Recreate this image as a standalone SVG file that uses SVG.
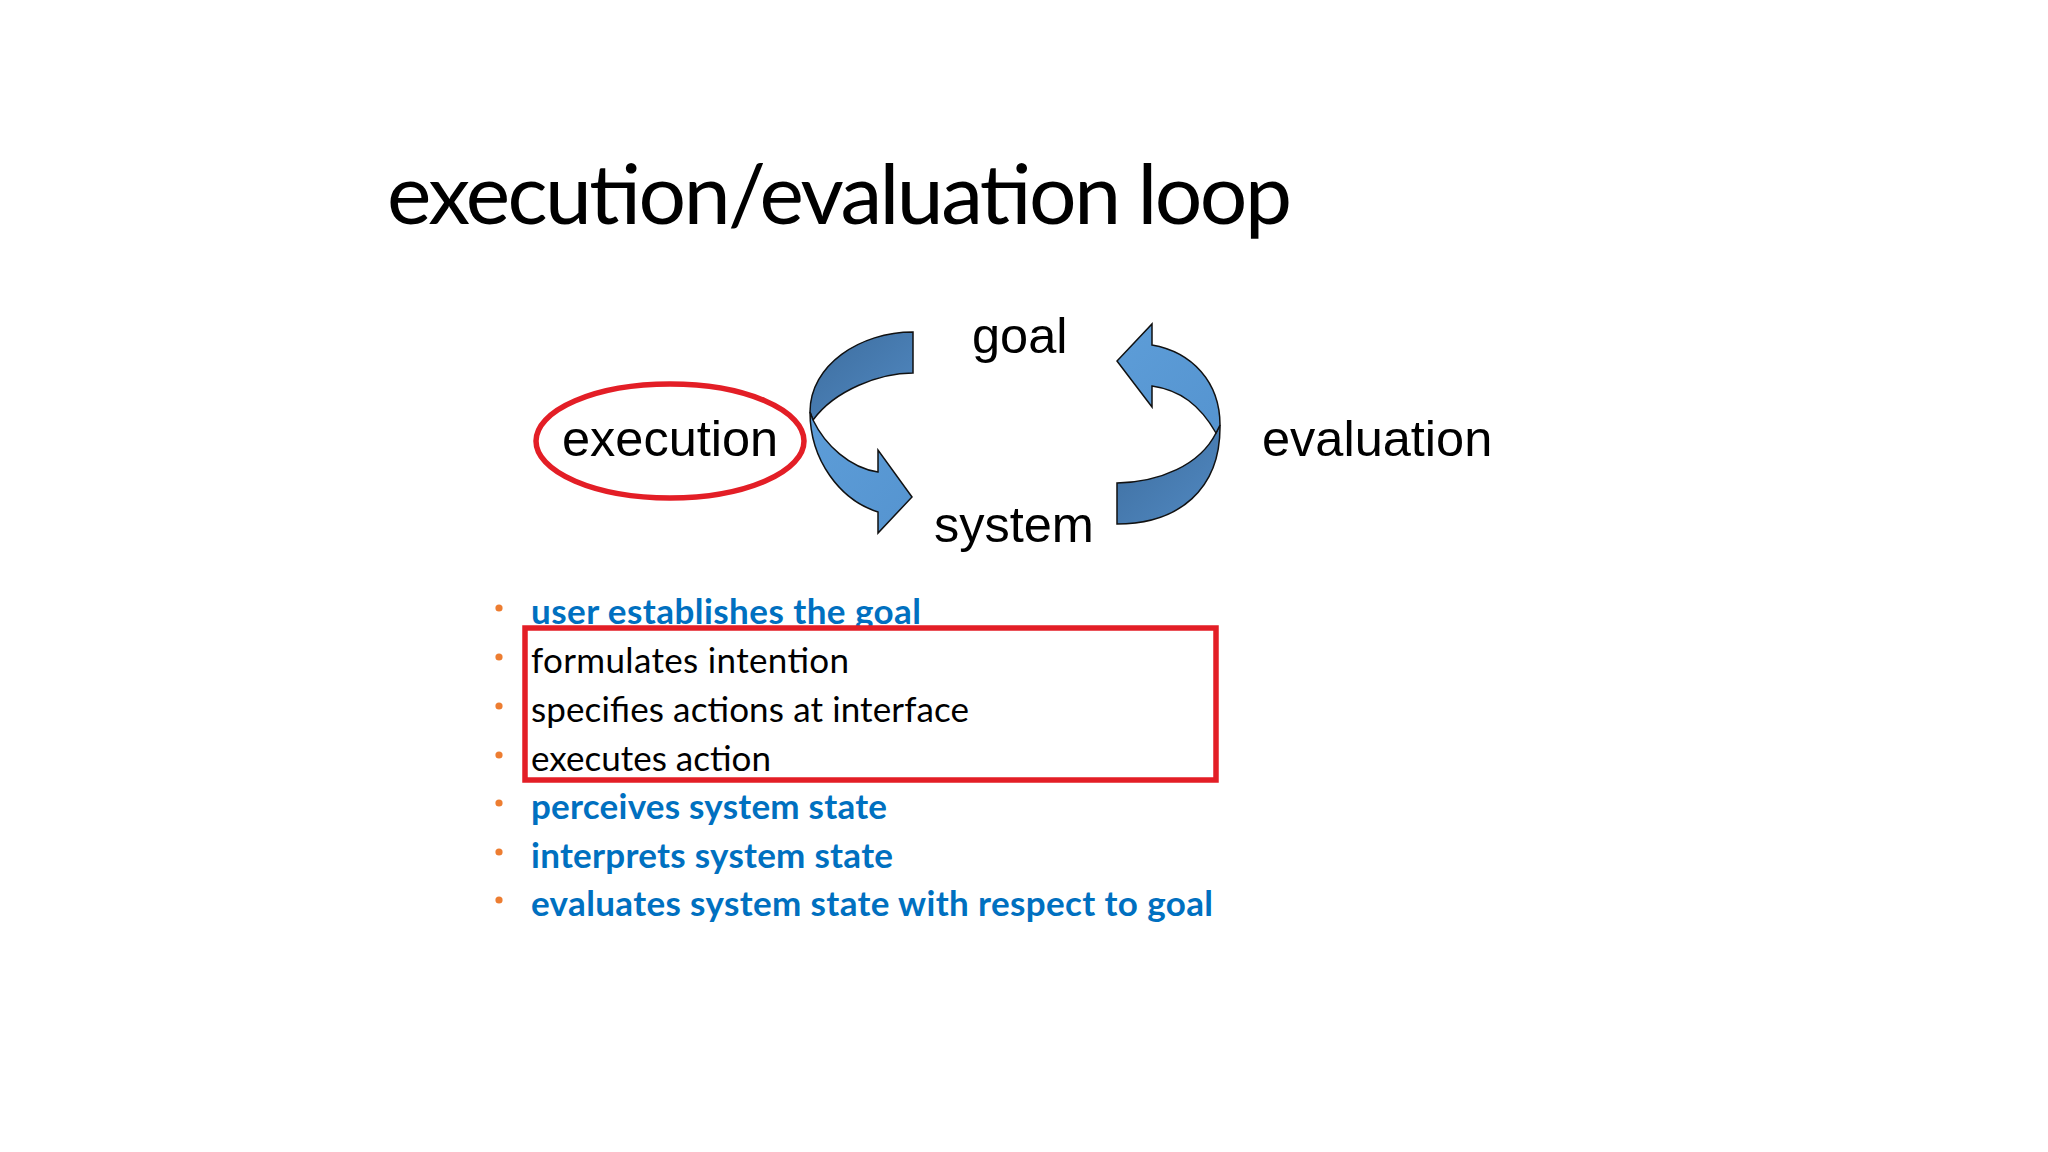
<svg xmlns="http://www.w3.org/2000/svg" width="2048" height="1152" viewBox="0 0 2048 1152">
  <style>
    .title { font-family: Lato, "Open Sans", "Liberation Sans", sans-serif; font-size: 84px; fill: #000; }
    .label { font-family: "Liberation Sans", Arial, sans-serif; font-size: 50.5px; fill: #000; }
    .item { font-family: Lato, "Open Sans", "Liberation Sans", sans-serif; font-size: 35px; }
    .blue { fill: #0070c0; font-weight: bold; }
    .black { fill: #000; }
    .dot { fill: #ed7d31; }
    .band { stroke: #111; stroke-width: 1.5; stroke-linejoin: miter; }
    .hl { fill: none; stroke: #e31e26; stroke-width: 5.5; }
  </style>
  <defs>
    <linearGradient id="darkGrad" x1="0" y1="0" x2="1" y2="1">
      <stop offset="0" stop-color="#3d6d9e"/>
      <stop offset="1" stop-color="#5189c2"/>
    </linearGradient>
    <linearGradient id="lightGrad" x1="0" y1="0" x2="1" y2="1">
      <stop offset="0" stop-color="#5d9dd8"/>
      <stop offset="1" stop-color="#5594d0"/>
    </linearGradient>
  </defs>
  <rect x="0" y="0" width="2048" height="1152" fill="#ffffff"/>

  <g id="title">
    <text class="title" x="387" y="224" textLength="905">execution/evaluation loop</text>
  </g>

  <g id="connectors">
    <g id="execution-arrow">
      <path class="band" fill="url(#darkGrad)" d="M913,332 C860,332 810,365 810,412 L813,420 C835,390 880,373 913,373 Z"/>
      <path class="band" fill="url(#lightGrad)" d="M810,412 C810,460 840,500 878,512 L878,533 L912,497 L878,450 L878,472 C850,468 825,445 813,420 Z"/>
    </g>
    <g id="evaluation-arrow">
      <path class="band" fill="url(#darkGrad)" d="M1220,425 C1221,490 1178,524 1117,524 L1117,483 C1160,482 1200,465 1216,433 Z"/>
      <path class="band" fill="url(#lightGrad)" d="M1152,345 C1192,352 1220,382 1220,425 L1216,433 C1200,405 1180,390 1152,386 L1152,407 L1117,361 L1152,324 Z"/>
    </g>
  </g>

  <g id="node-goal">
    <text class="label" x="972" y="353">goal</text>
  </g>
  <g id="node-system">
    <text class="label" x="934" y="542">system</text>
  </g>
  <g id="node-execution">
    <ellipse class="hl" cx="670" cy="441" rx="134" ry="57"/>
    <text class="label" x="562" y="456">execution</text>
  </g>
  <g id="node-evaluation">
    <text class="label" x="1262" y="456">evaluation</text>
  </g>

  <g id="bullets">
    <circle class="dot" cx="499" cy="608" r="3.6"/>
    <circle class="dot" cx="499" cy="657" r="3.6"/>
    <circle class="dot" cx="499" cy="706" r="3.6"/>
    <circle class="dot" cx="499" cy="755" r="3.6"/>
    <circle class="dot" cx="499" cy="803" r="3.6"/>
    <circle class="dot" cx="499" cy="852" r="3.6"/>
    <circle class="dot" cx="499" cy="900" r="3.6"/>
    <text class="item blue" x="531" y="624" textLength="390">user establishes the goal</text>
    <text class="item black" x="531" y="673" textLength="318">formulates intention</text>
    <text class="item black" x="531" y="722" textLength="438">specifies actions at interface</text>
    <text class="item black" x="531" y="771" textLength="240">executes action</text>
    <text class="item blue" x="531" y="819" textLength="356">perceives system state</text>
    <text class="item blue" x="531" y="868" textLength="362">interprets system state</text>
    <text class="item blue" x="531" y="916" textLength="682">evaluates system state with respect to goal</text>
  </g>

  <g id="highlight-box">
    <rect class="hl" x="525" y="628" width="691" height="152"/>
  </g>
</svg>
